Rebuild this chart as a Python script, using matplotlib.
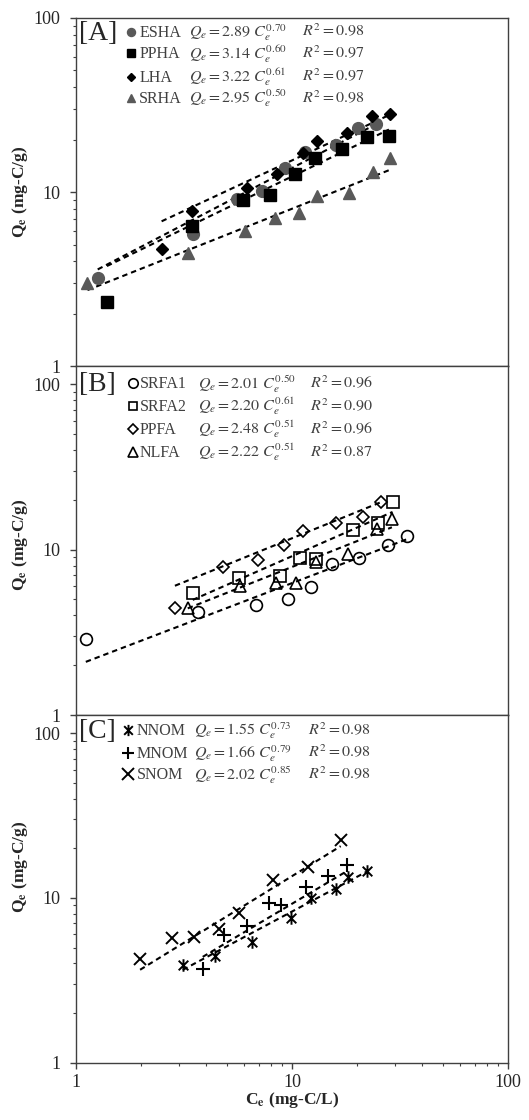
import matplotlib
matplotlib.use('Agg')
import matplotlib.pyplot as plt
import matplotlib.ticker as ticker
from matplotlib.path import Path

plt.rcParams['font.family'] = ['Liberation Serif', 'DejaVu Serif']
plt.rcParams['mathtext.fontset'] = 'stix'

# ---------------- [A] humic acids ----------------
esha_ce = [1.26, 3.49, 5.54, 7.24, 9.29, 11.5, 16.0, 20.3, 24.5]
esha_qe = [3.23, 5.74, 9.15, 10.2, 13.8, 17.1, 18.7, 23.3, 24.6]
ppha_ce = [1.39, 3.46, 5.91, 7.91, 10.3, 12.8, 17.1, 22.3, 28.1]
ppha_qe = [2.33, 6.40, 9.03, 9.57, 12.7, 15.7, 17.7, 20.6, 21.1]
lha_ce = [2.49, 3.46, 6.17, 8.49, 11.3, 13.1, 17.9, 23.4, 28.4]
lha_qe = [4.70, 7.84, 10.6, 12.7, 16.7, 19.7, 21.8, 27.2, 28.2]
srha_ce = [1.13, 3.31, 6.06, 8.34, 10.8, 13.0, 18.4, 23.6, 28.4]
srha_qe = [3.02, 4.50, 5.99, 7.09, 7.64, 9.44, 9.95, 13.0, 15.7]

a_names = ['ESHA', 'PPHA', 'LHA', 'SRHA']
a_eq_k = ['2.89', '3.14', '3.22', '2.95']
a_eq_n = ['0.70', '0.60', '0.61', '0.50']
a_r2 = ['0.98', '0.97', '0.97', '0.98']
# dashed trend lines as drawn (Q = k * C^n)
a_fit_k = [3.10, 3.09, 4.01, 2.58]
a_fit_n = [0.647, 0.60, 0.579, 0.493]

# ---------------- [B] fulvic acids ----------------
srfa1_ce = [1.11, 3.66, 6.79, 9.55, 12.3, 15.3, 20.4, 27.9, 34.2]
srfa1_qe = [2.88, 4.21, 4.63, 5.01, 5.97, 8.15, 8.86, 10.7, 12.1]
srfa2_ce = [3.47, 5.70, 8.80, 10.9, 12.9, 19.1, 25.1, 29.2]
srfa2_qe = [5.45, 6.77, 6.96, 8.87, 8.78, 13.1, 14.6, 19.3]
ppfa_ce = [2.87, 4.81, 6.98, 9.18, 11.3, 16.0, 21.4, 25.8]
ppfa_qe = [4.42, 7.82, 8.65, 10.6, 13.0, 14.6, 15.7, 19.5]
nlfa_ce = [3.29, 5.74, 8.43, 10.4, 12.9, 18.2, 24.7, 29.0]
nlfa_qe = [4.46, 6.03, 6.26, 6.26, 8.45, 9.37, 13.3, 15.3]

b_names = ['SRFA1', 'SRFA2', 'PPFA', 'NLFA']
b_eq_k = ['2.01', '2.20', '2.48', '2.22']
b_eq_n = ['0.50', '0.61', '0.51', '0.51']
b_r2 = ['0.96', '0.90', '0.96', '0.87']
b_fit_k = [1.99, 2.43, 3.46, 2.38]
b_fit_n = [0.499, 0.575, 0.53, 0.519]

# ---------------- [C] NOM ----------------
nnom_ce = [3.12, 4.40, 6.55, 9.86, 12.3, 16.0, 18.2, 22.3]
nnom_qe = [3.92, 4.46, 5.43, 7.59, 9.96, 11.3, 13.4, 14.6]
mnom_ce = [3.86, 4.84, 6.21, 7.85, 8.89, 11.6, 14.7, 18.0]
mnom_qe = [3.69, 5.96, 6.76, 9.29, 9.07, 11.7, 13.6, 15.9]
snom_ce = [1.98, 2.79, 3.53, 4.59, 5.69, 8.14, 11.8, 16.8]
snom_qe = [4.26, 5.69, 5.82, 6.45, 8.07, 12.9, 15.5, 22.5]

c_names = ['NNOM', 'MNOM', 'SNOM']
c_eq_k = ['1.55', '1.66', '2.02']
c_eq_n = ['0.73', '0.79', '0.85']
c_r2 = ['0.98', '0.98', '0.98']
c_fit_k = [1.65, 1.53, 2.11]
c_fit_n = [0.70, 0.78, 0.808]

GRAY = '#595959'
TXT = '#404040'

# Excel-style star marker: an x with a vertical bar
star = Path([(-1, -1), (1, 1), (-1, 1), (1, -1), (0, -1.3), (0, 1.3)],
            [Path.MOVETO, Path.LINETO, Path.MOVETO, Path.LINETO, Path.MOVETO, Path.LINETO])

a_styles = [dict(marker='o', ms=8.5, mfc=GRAY, mec=GRAY),
            dict(marker='s', ms=8, mfc='black', mec='black'),
            dict(marker='D', ms=6.5, mfc='black', mec='black'),
            dict(marker='^', ms=8.5, mfc=GRAY, mec=GRAY)]
b_styles = [dict(marker='o', ms=8.5, mfc='none', mec='black', mew=1.2),
            dict(marker='s', ms=8, mfc='none', mec='black', mew=1.2),
            dict(marker='D', ms=6.5, mfc='none', mec='black', mew=1.2),
            dict(marker='^', ms=8.5, mfc='none', mec='black', mew=1.2)]
c_styles = [dict(marker=star, ms=9, mfc='none', mec='black', mew=1.4),
            dict(marker='+', ms=10, mec='black', mew=1.5),
            dict(marker='x', ms=9, mec='black', mew=1.4)]


def panel(ax, xs, ys, styles, fit_k, fit_n, names, eq_k, eq_n, r2,
          tag, rows, xpos, ymax, leg_scale):
    for x, y, st, k, n in zip(xs, ys, styles, fit_k, fit_n):
        lo, hi = min(x), max(x)
        ax.plot([lo, hi], [k * lo ** n, k * hi ** n], color='black', lw=1.5,
                linestyle=(0, (2.6, 1.9)), zorder=2)
        ax.plot(x, y, linestyle='none', zorder=3, **st)

    # hand-built legend rows
    xm, xn, xq, xr = xpos
    for i, st in enumerate(styles):
        yc = rows[i]
        lst = dict(st)
        lst['ms'] = st['ms'] * leg_scale
        ax.plot([xm], [yc], transform=ax.transAxes, linestyle='none',
                clip_on=False, **lst)
        yb = yc - 0.0145
        ax.text(xn, yb, names[i], transform=ax.transAxes, fontsize=11.5,
                color=TXT, va='baseline')
        ax.text(xq, yb, r'$Q_e = %s\ C_e^{%s}$' % (eq_k[i], eq_n[i]),
                transform=ax.transAxes, fontsize=11.5, color=TXT, va='baseline')
        ax.text(xr, yb, r'$R^2 = %s$' % r2[i], transform=ax.transAxes,
                fontsize=11.5, color=TXT, va='baseline')
    ax.text(0.008, rows[0] - 0.004, tag, transform=ax.transAxes, fontsize=20,
            color='#262626', va='center', ha='left')

    ax.set_xscale('log')
    ax.set_yscale('log')
    ax.set_xlim(1, 100)
    ax.set_ylim(1, ymax)
    ax.yaxis.set_major_formatter(ticker.FuncFormatter(lambda v, _: '%g' % v))
    ax.yaxis.set_minor_formatter(ticker.NullFormatter())
    ax.tick_params(axis='y', which='major', direction='out', length=4,
                   width=1, pad=7.5, labelsize=13, color='#404040',
                   labelcolor='#262626')
    ax.tick_params(axis='y', which='minor', direction='out', length=2.5,
                   width=0.8, color='#404040')
    ax.tick_params(axis='y', right=False)
    ax.tick_params(axis='x', which='both', top=False)
    for sp in ax.spines.values():
        sp.set_color('#404040')
        sp.set_linewidth(1.0)
    ax.set_ylabel('Q' + r'$_{\mathbf{e}}$' + ' (mg-C/g)', fontsize=12.5,
                  fontweight='bold', color='#262626')
    ax.yaxis.label.set_va('center')


fig = plt.figure(figsize=(5.29, 11.2), dpi=100)
ax_a = fig.add_axes([0.1437, 0.6729, 0.8166, 0.3111])
ax_b = fig.add_axes([0.1437, 0.3616, 0.8166, 0.3113])
ax_c = fig.add_axes([0.1437, 0.0512, 0.8166, 0.3104])

panel(ax_a, [esha_ce, ppha_ce, lha_ce, srha_ce],
      [esha_qe, ppha_qe, lha_qe, srha_qe], a_styles, a_fit_k, a_fit_n,
      a_names, a_eq_k, a_eq_n, a_r2, '[A]',
      [0.9607, 0.8987, 0.8315, 0.7695], (0.1266, 0.1466, 0.262, 0.522),
      100, 0.68)
panel(ax_b, [srfa1_ce, srfa2_ce, ppfa_ce, nlfa_ce],
      [srfa1_qe, srfa2_qe, ppfa_qe, nlfa_qe], b_styles, b_fit_k, b_fit_n,
      b_names, b_eq_k, b_eq_n, b_r2, '[B]',
      [0.9512, 0.887, 0.820, 0.755], (0.131, 0.148, 0.283, 0.542),
      128.5, 0.8)
panel(ax_c, [nnom_ce, mnom_ce, snom_ce],
      [nnom_qe, mnom_qe, snom_qe], c_styles, c_fit_k, c_fit_n,
      c_names, c_eq_k, c_eq_n, c_r2, '[C]',
      [0.957, 0.892, 0.829], (0.121, 0.140, 0.273, 0.536),
      129, 0.9)

ax_a.yaxis.set_label_coords(-0.13, 0.5)
ax_b.yaxis.set_label_coords(-0.13, 0.4875)
ax_c.yaxis.set_label_coords(-0.13, 0.564)

for ax in (ax_a, ax_b):
    ax.tick_params(axis='x', which='both', bottom=False, labelbottom=False)

ax_c.xaxis.set_major_formatter(ticker.FuncFormatter(lambda v, _: '%g' % v))
ax_c.xaxis.set_minor_formatter(ticker.NullFormatter())
ax_c.tick_params(axis='x', which='major', direction='out', length=4, width=1,
                 pad=4, labelsize=13, color='#404040', labelcolor='#262626')
ax_c.tick_params(axis='x', which='minor', direction='out', length=2.5,
                 width=0.8, color='#404040')
ax_c.set_xlabel('C' + r'$_{\mathbf{e}}$' + ' (mg-C/L)', fontsize=12.5,
                fontweight='bold', color='#262626')
ax_c.xaxis.label.set_va('center')
ax_c.xaxis.set_label_coords(0.5, -0.107)

fig.savefig('out.png', dpi=100)
